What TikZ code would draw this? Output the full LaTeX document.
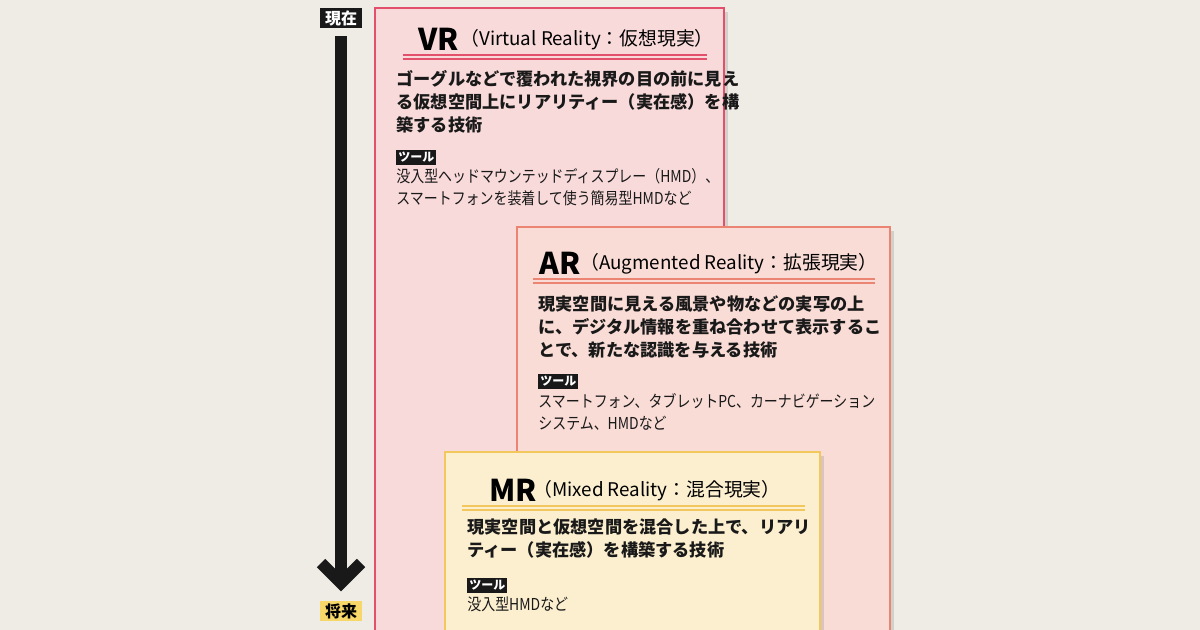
\documentclass[tikz,border=0pt]{standalone}
\usepackage{fontspec}
\usepackage{graphicx}
\newfontfamily\jp{Noto Sans CJK JP}
\usetikzlibrary{shadows}
\definecolor{bg}{HTML}{EEECE5}
\definecolor{vrf}{HTML}{F9DADA}
\definecolor{vrb}{HTML}{E2506C}
\definecolor{arf}{HTML}{F9DCD6}
\definecolor{arb}{HTML}{EC8474}
\definecolor{mrf}{HTML}{FCEFCF}
\definecolor{mrb}{HTML}{F2C75C}
\definecolor{tagy}{HTML}{F8D76A}
\newcommand{\toolsq}[1]{\scalebox{0.85}[1]{\begin{tabular}{@{}l@{}}#1\end{tabular}}}
\begin{document}
\begin{tikzpicture}[x=0.5pt,y=-0.5pt,
  box/.style={line width=1.2pt,drop shadow={shadow xshift=2pt,shadow yshift=-2pt,opacity=0.25}},
  body/.style={anchor=north west,align=left,inner sep=0pt,font=\fontsize{8.6pt}{11.5pt}\jp\bfseries,text=black!90},
  tool/.style={anchor=north west,align=left,inner sep=0pt,font=\fontsize{8.2pt}{11.2pt}\jp,text=black!90},
  tag/.style={anchor=north west,fill=black!90,text=white,inner sep=1pt,font=\fontsize{6pt}{7pt}\jp\bfseries},
  ttl/.style={anchor=west,inner sep=0pt,font=\fontsize{9.4pt}{10pt}\jp}]
\fill[bg] (0,0) rectangle (1200,630);
\useasboundingbox (0,0) rectangle (1200,630);
% timeline
\draw[line width=6pt,black!90] (341,36) -- (341,582);
\draw[line width=6pt,black!90,line cap=butt,line join=miter] (321,563) -- (341,583) -- (361,563);
\node[fill=black!90,text=white,font=\fontsize{8pt}{9pt}\jp\bfseries,minimum width=21pt,minimum height=10pt,inner sep=0pt] (now) at (341,18) {現在};
\node[fill=tagy,text=black,font=\fontsize{8pt}{9pt}\jp\bfseries,minimum width=21pt,minimum height=10pt,inner sep=0pt] (fut) at (341,611) {将来};
% VR
\path[box,fill=vrf,draw=vrb] (375,8) rectangle (724,640);
\node[anchor=west,inner sep=0pt,font=\fontsize{15pt}{16pt}\jp\bfseries] (vrt) at (418,39) {VR};
\node[ttl] at (460,40) {（Virtual Reality：仮想現実）};
\draw[vrb,line width=1pt] (403,55)--(707,55) (403,59.5)--(707,59.5);
\node[body] (vrd) at (396,70) {ゴーグルなどで覆われた視界の目の前に見え\\る仮想空間上にリアリティー（実在感）を構\\築する技術};
\node[tag] (vrg) at (396,150) {ツール};
\node[tool] (vrs) at (396,166) {\toolsq{没入型ヘッドマウンテッドディスプレー（HMD）、\\スマートフォンを装着して使う簡易型HMDなど}};
% AR
\path[box,fill=arf,draw=arb] (517,227) rectangle (890,640);
\node[anchor=west,inner sep=0pt,font=\fontsize{15pt}{16pt}\jp\bfseries] (art) at (539,263) {AR};
\node[ttl] at (580,264) {（Augmented Reality：拡張現実）};
\draw[arb,line width=1pt] (533,279)--(875,279) (533,283.5)--(875,283.5);
\node[body] (ard) at (538,295) {現実空間に見える風景や物などの実写の上\\に、デジタル情報を重ね合わせて表示するこ\\とで、新たな認識を与える技術};
\node[tag] (arg) at (538,374) {ツール};
\node[tool] (ars) at (538,391) {\toolsq{スマートフォン、タブレットPC、カーナビゲーション\\システム、HMDなど}};
% MR
\path[box,fill=mrf,draw=mrb] (445,452) rectangle (820,640);
\node[anchor=west,inner sep=0pt,font=\fontsize{15pt}{16pt}\jp\bfseries] (mrt) at (489,490) {MR};
\node[ttl] at (533,491) {（Mixed Reality：混合現実）};
\draw[mrb,line width=1pt] (462,506)--(805,506) (462,510.5)--(805,510.5);
\node[body] (mrd) at (467,518) {現実空間と仮想空間を混合した上で、リアリ\\ティー（実在感）を構築する技術};
\node[tag] (mrg) at (467,578) {ツール};
\node[tool] (mrs) at (467,594) {\toolsq{没入型HMDなど}};
\end{tikzpicture}
\end{document}
